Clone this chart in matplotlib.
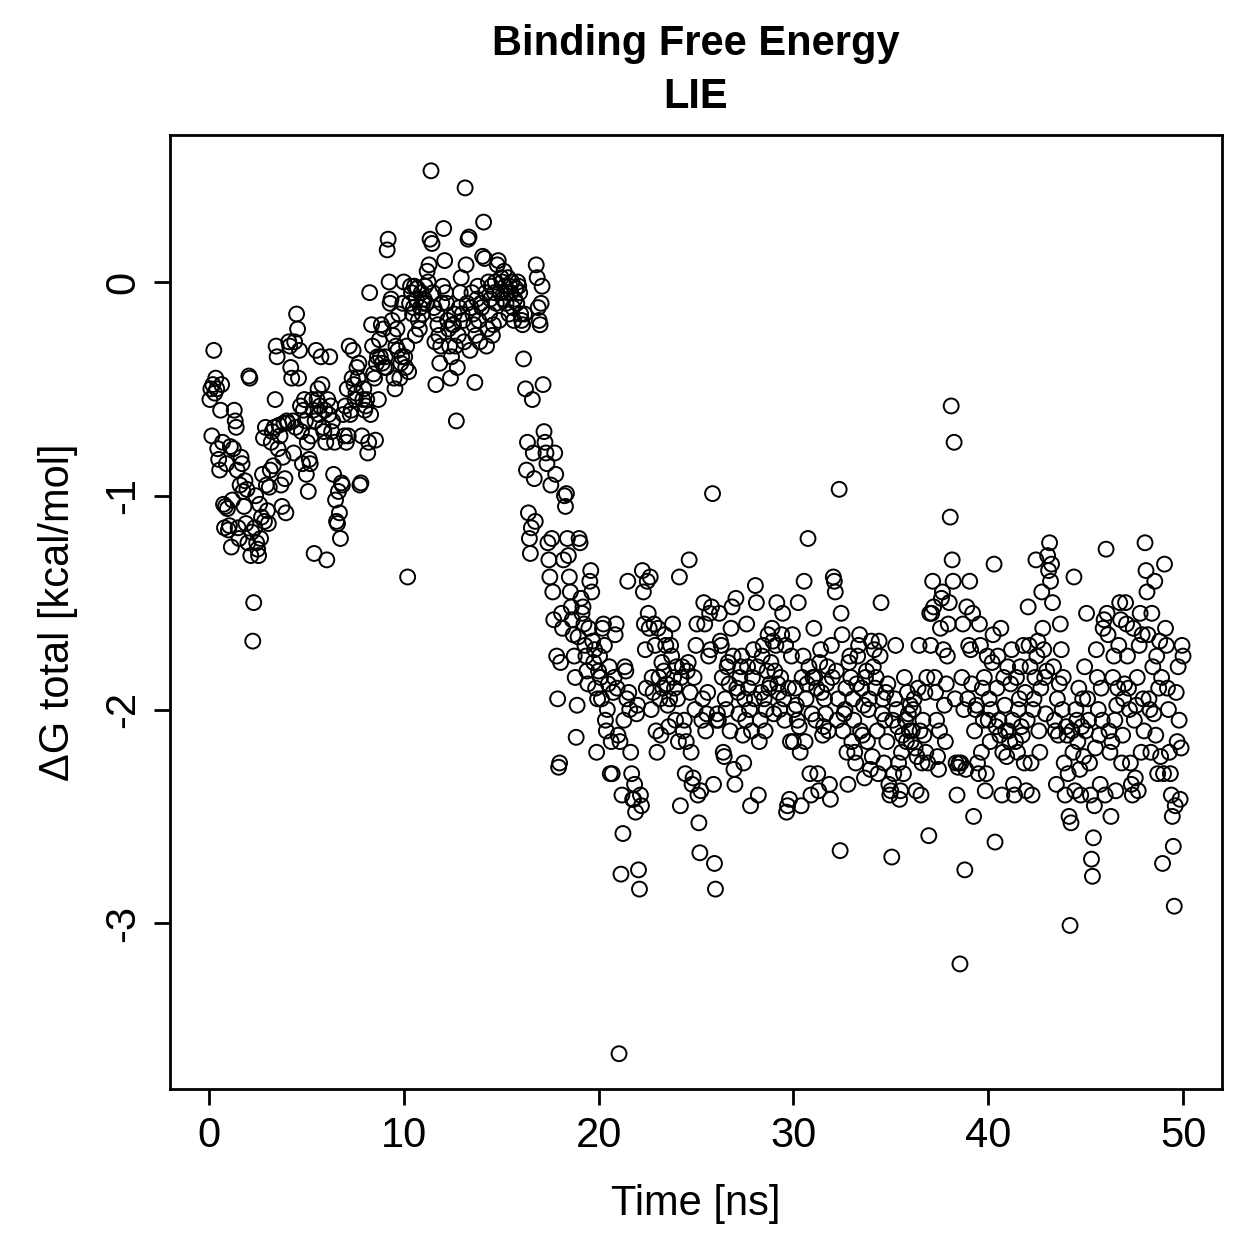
import numpy as np
import matplotlib
matplotlib.use("Agg")
import matplotlib.pyplot as plt

# LIE binding free energy, 20 frames per ns
dg_rows = [
    [-0.55, -0.50, -0.72, -0.48, -0.32, -0.52, -0.45, -0.50, -0.78, -0.83, -0.88, -0.60, -0.48, -0.75, -1.04, -1.15, -1.05, -0.85, -1.06, -1.16],
    [-1.14, -0.77, -1.24, -1.02, -0.78, -0.60, -0.65, -0.68, -0.88, -1.15, -1.20, -0.95, -0.82, -0.85, -0.98, -1.05, -0.93, -1.13, -0.97, -1.22],
    [-0.44, -0.45, -1.28, -1.17, -1.68, -1.50, -1.15, -1.00, -1.22, -1.25, -1.28, -1.04, -1.20, -1.10, -0.90, -0.73, -1.12, -0.68, -0.95, -1.07],
    [-1.13, -0.96, -0.88, -0.75, -0.70, -0.86, -0.68, -0.55, -0.30, -0.35, -0.78, -0.67, -0.72, -0.95, -1.05, -0.82, -0.66, -0.92, -1.08, -0.65],
    [-0.66, -0.28, -0.30, -0.40, -0.45, -0.65, -0.80, -0.28, -0.68, -0.15, -0.22, -0.45, -0.32, -0.58, -0.70, -0.85, -0.60, -0.55, -0.65, -0.90],
    [-0.75, -0.98, -0.83, -0.85, -0.72, -0.55, -0.60, -1.27, -0.65, -0.32, -0.55, -0.50, -0.62, -0.58, -0.35, -0.48, -0.68, -0.70, -0.60, -0.75],
    [-1.30, -0.55, -0.62, -0.35, -0.58, -0.70, -0.65, -0.90, -0.75, -1.02, -1.12, -1.13, -0.98, -1.08, -1.20, -0.94, -0.95, -0.62, -0.72, -0.58],
    [-0.75, -0.50, -0.72, -0.30, -0.62, -0.60, -0.45, -0.32, -0.48, -0.55, -0.52, -0.40, -0.45, -0.38, -0.95, -0.94, -0.72, -0.55, -0.50, -0.60],
    [-0.58, -0.55, -0.80, -0.75, -0.05, -0.62, -0.20, -0.30, -0.43, -0.45, -0.74, -0.38, -0.35, -0.55, -0.27, -0.35, -0.20, -0.38, -0.22, -0.40],
    [-0.35, -0.40, 0.15, 0.20, 0.00, -0.10, -0.08, -0.18, -0.25, -0.45, -0.50, -0.30, -0.22, -0.32, -0.15, -0.45, -0.38, -0.35, -0.10, 0.00],
    [-0.35, -0.40, -0.30, -1.38, -0.42, -0.10, -0.02, -0.05, -0.15, -0.12, -0.02, -0.25, -0.08, -0.03, -0.18, -0.22, -0.12, -0.05, -0.15, -0.10],
    [-0.08, -0.02, -0.10, 0.05, 0.00, 0.08, 0.20, 0.52, 0.18, -0.05, -0.12, -0.28, -0.48, -0.15, -0.20, -0.25, -0.38, -0.30, -0.10, -0.02],
    [0.25, 0.10, -0.05, -0.10, -0.18, -0.22, -0.30, -0.45, -0.35, -0.20, -0.20, -0.15, -0.30, -0.65, -0.40, -0.25, -0.12, -0.05, 0.02, -0.15],
    [-0.18, -0.28, 0.44, 0.08, -0.10, 0.20, 0.21, -0.32, -0.12, -0.05, -0.15, -0.20, -0.47, -0.25, -0.08, -0.02, -0.18, -0.28, -0.10, -0.12],
    [0.12, 0.28, 0.11, -0.05, -0.30, -0.22, 0.00, -0.15, -0.08, -0.02, -0.25, -0.20, -0.05, 0.00, -0.10, 0.08, 0.10, -0.18, -0.05, 0.02],
    [0.00, -0.08, 0.05, -0.02, -0.10, -0.05, 0.02, -0.15, -0.02, -0.05, 0.00, -0.12, -0.18, -0.08, -0.03, -0.10, 0.00, -0.02, -0.05, -0.15],
    [-0.18, -0.20, -0.36, -0.15, -0.50, -0.88, -0.75, -1.08, -1.20, -1.27, -1.15, -0.55, -0.80, -0.92, -1.12, 0.08, 0.02, -0.12, -0.18, -0.20],
    [-0.10, -0.02, -0.48, -0.70, -0.75, -0.80, -0.85, -1.22, -1.30, -1.38, -0.95, -1.20, -1.45, -1.58, -0.80, -0.90, -1.75, -1.95, -2.27, -2.25],
    [-1.78, -1.55, -1.62, -1.30, -1.00, -1.05, -0.99, -1.20, -1.28, -1.38, -1.45, -1.52, -1.58, -1.65, -1.75, -1.85, -2.13, -1.98, -1.66, -1.20],
    [-1.22, -1.48, -1.55, -1.52, -1.60, -1.70, -1.75, -1.82, -1.88, -1.62, -1.40, -1.35, -1.45, -1.68, -1.78, -1.72, -1.90, -2.20, -1.95, -1.82],
    [-1.75, -1.85, -1.95, -1.62, -1.60, -1.70, -2.05, -2.10, -2.00, -1.88, -1.80, -2.30, -2.15, -2.30, -1.92, -1.85, -1.65, -1.60, -1.90, -2.12],
    [-3.61, -2.15, -2.77, -2.40, -2.58, -2.05, -1.80, -1.82, -1.95, -1.40, -1.92, -2.00, -2.20, -2.30, -2.42, -2.42, -2.35, -2.48, -2.02, -1.98],
    [-2.75, -2.84, -2.40, -2.45, -1.35, -1.45, -1.60, -1.72, -1.90, -1.40, -1.55, -1.62, -1.38, -2.00, -1.85, -1.92, -1.60, -1.70, -2.10, -2.20],
    [-1.62, -1.85, -1.95, -2.12, -1.78, -1.90, -1.82, -1.65, -1.70, -1.88, -1.98, -2.08, -1.95, -1.70, -1.75, -1.60, -1.85, -1.90, -2.05, -1.80],
    [-1.95, -2.15, -1.38, -2.45, -1.85, -1.80, -2.10, -2.05, -2.30, -2.15, -1.82, -1.78, -1.30, -1.92, -2.20, -2.35, -2.32, -1.85, -2.00, -1.70],
    [-1.60, -2.40, -2.53, -2.67, -2.38, -2.05, -1.95, -1.50, -1.60, -2.10, -2.02, -1.92, -1.75, -1.55, -1.72, -1.52, -0.99, -2.35, -2.72, -2.84],
    [-2.05, -2.02, -2.05, -1.55, -1.68, -1.70, -1.85, -2.20, -2.22, -1.95, -2.00, -1.80, -1.78, -1.88, -2.10, -1.62, -1.52, -1.75, -2.28, -2.35],
    [-1.48, -1.90, -1.92, -2.02, -1.85, -1.80, -1.75, -2.12, -2.25, -1.95, -2.05, -1.60, -1.80, -1.90, -2.00, -2.45, -2.10, -1.85, -1.72, -1.95],
    [-1.42, -1.50, -1.80, -2.40, -2.15, -2.05, -1.92, -1.75, -1.70, -1.95, -2.10, -2.00, -1.82, -1.65, -1.90, -1.88, -1.78, -1.62, -1.68, -2.02],
    [-1.82, -1.70, -1.50, -1.88, -1.92, -2.00, -1.85, -1.65, -1.55, -1.95, -2.05, -1.70, -2.48, -2.45, -1.90, -2.42, -2.15, -1.75, -1.65, -2.15],
    [-2.00, -1.90, -1.98, -2.05, -1.50, -2.08, -2.20, -2.45, -1.85, -1.75, -1.40, -2.15, -1.95, -1.88, -1.20, -1.80, -2.30, -2.40, -2.02, -1.85],
    [-1.62, -1.85, -2.05, -1.90, -2.30, -2.38, -1.78, -1.72, -1.92, -2.12, -2.08, -1.95, -2.02, -1.88, -1.80, -2.10, -2.35, -2.42, -1.70, -1.85],
    [-1.38, -1.40, -1.45, -1.82, -2.05, -1.95, -0.97, -2.66, -1.55, -1.65, -2.10, -2.02, -2.00, -1.90, -2.20, -2.35, -1.78, -1.75, -1.85, -2.15],
    [-1.95, -2.05, -2.20, -2.25, -1.88, -1.75, -1.70, -1.65, -2.10, -1.90, -2.12, -1.98, -2.32, -1.85, -1.82, -2.15, -2.00, -1.95, -2.28, -1.68],
    [-2.22, -1.80, -1.72, -1.90, -1.85, -2.10, -2.30, -1.68, -1.75, -1.50, -2.02, -1.95, -2.25, -2.05, -1.92, -2.15, -1.88, -2.35, -2.40, -2.38],
    [-2.69, -2.05, -2.30, -1.95, -1.70, -2.00, -2.08, -2.25, -2.42, -2.38, -2.20, -2.12, -2.30, -1.85, -2.05, -2.15, -1.92, -2.02, -2.10, -1.98],
    [-2.15, -2.10, -2.00, -1.95, -2.18, -2.38, -2.22, -1.90, -1.70, -2.10, -2.40, -2.25, -2.05, -2.12, -1.92, -2.20, -1.85, -2.25, -2.59, -1.55],
    [-1.70, -1.55, -1.40, -1.52, -1.85, -1.92, -2.05, -2.22, -2.28, -2.10, -1.62, -1.48, -1.45, -1.72, -1.98, -2.15, -1.88, -1.75, -1.60, -1.50],
    [-1.10, -0.58, -1.30, -1.40, -0.75, -1.95, -2.25, -2.40, -2.27, -2.25, -3.19, -2.25, -1.85, -1.60, -2.00, -2.75, -2.28, -1.52, -1.95, -1.70],
    [-1.40, -1.72, -1.88, -1.55, -2.50, -2.10, -2.00, -1.98, -2.25, -2.30, -1.60, -1.70, -2.20, -1.90, -2.05, -1.85, -2.38, -2.30, -1.75, -2.05],
    [-1.95, -2.15, -2.00, -1.78, -1.65, -1.32, -2.62, -2.08, -1.90, -1.75, -2.05, -2.12, -1.62, -2.40, -2.20, -1.85, -1.98, -2.10, -2.22, -1.80],
    [-2.10, -2.15, -1.88, -1.72, -2.05, -2.35, -2.40, -2.15, -1.85, -2.20, -2.00, -1.95, -1.80, -2.08, -2.12, -1.70, -2.25, -1.92, -2.38, -2.05],
    [-1.52, -1.70, -1.80, -2.25, -2.40, -2.00, -1.95, -1.85, -1.30, -1.75, -1.68, -2.10, -2.20, -1.90, -1.45, -1.62, -1.72, -1.85, -2.02, -1.82],
    [-1.28, -1.35, -1.22, -1.40, -1.32, -1.50, -1.80, -2.05, -2.10, -2.35, -1.95, -2.12, -1.88, -1.60, -1.72, -2.00, -1.85, -2.25, -2.40, -2.08],
    [-2.12, -2.30, -2.50, -3.01, -2.53, -2.10, -2.20, -1.38, -2.38, -2.00, -2.05, -2.15, -1.90, -2.28, -2.40, -2.08, -1.95, -2.22, -1.80, -2.10],
    [-1.55, -1.95, -2.05, -2.25, -2.40, -2.70, -2.78, -2.60, -2.45, -2.18, -1.72, -1.85, -2.00, -2.12, -2.35, -1.90, -2.05, -1.62, -1.58, -2.40],
    [-1.25, -1.55, -1.65, -2.10, -2.20, -2.50, -2.15, -1.85, -1.75, -2.05, -2.38, -1.98, -1.90, -1.70, -1.50, -1.58, -2.25, -2.12, -1.95, -1.88],
    [-1.50, -1.60, -1.75, -1.90, -2.00, -2.25, -2.35, -2.40, -1.62, -2.05, -2.32, -1.98, -1.85, -2.38, -1.70, -1.55, -2.20, -1.65, -1.95, -2.10],
    [-1.22, -1.35, -1.45, -1.65, -1.95, -2.00, -2.20, -1.55, -1.80, -2.02, -1.40, -2.12, -1.75, -2.30, -1.90, -1.68, -2.22, -1.85, -2.72, -2.30],
    [-1.32, -1.62, -1.70, -1.90, -2.00, -2.20, -2.30, -2.40, -2.50, -2.64, -2.92, -2.45, -1.92, -2.15, -1.80, -2.05, -2.42, -2.18, -1.70, -1.75],
]
dg_total = np.array(dg_rows).ravel()
time_ns = np.linspace(0.05, 50.0, dg_total.size)

x_ticks = [0, 10, 20, 30, 40, 50]
y_ticks = [-3, -2, -1, 0]

plt.rcParams['font.family'] = ['Liberation Sans', 'DejaVu Sans']

fig = plt.figure(figsize=(12.59, 12.59), dpi=100)
ax = fig.add_axes([0.1350, 0.1350, 0.8356, 0.7574])

ax.scatter(time_ns, dg_total, s=115, facecolors='none', edgecolors='black', linewidths=1.4)

# R-style 4% padding on both axes
xr = np.ptp(time_ns)
yr = np.ptp(dg_total)
ax.set_xlim(0 - 0.04 * 50, 50 + 0.04 * 50)
ax.set_ylim(dg_total.min() - 0.04 * yr, dg_total.max() + 0.04 * yr)
ax.set_xticks(x_ticks)
ax.set_yticks(y_ticks)
ax.set_yticklabels([str(v) for v in y_ticks], rotation=90, va='center')
ax.tick_params(axis='both', direction='out', length=11.5, width=2.0, labelsize=30)
ax.tick_params(axis='x', pad=8)
ax.tick_params(axis='y', pad=8)
for sp in ax.spines.values():
    sp.set_linewidth(2.0)

ax.set_xlabel('Time [ns]', fontsize=30, labelpad=20)
ax.set_ylabel('ΔG total [kcal/mol]', fontsize=30, labelpad=18)

fig.text(696 / 1259, 1 - 55 / 1259, 'Binding Free Energy', ha='center', va='baseline',
         fontsize=30, fontweight='bold')
fig.text(696 / 1259, 1 - 108 / 1259, 'LIE', ha='center', va='baseline',
         fontsize=30, fontweight='bold')

fig.savefig('out.png', dpi=100)
